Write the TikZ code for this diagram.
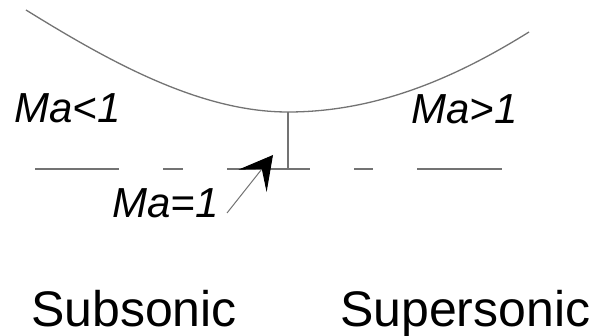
\documentclass[tikz,border=0pt]{standalone}
\usepackage{fontspec}
\setmainfont{Liberation Sans}
\usetikzlibrary{arrows.meta}

\begin{document}
\begin{tikzpicture}[x=1pt, y=-1pt,
  machlabel/.style={inner sep=0pt, anchor=base west, font=\fontsize{42}{48}\selectfont\itshape},
  regime/.style={inner sep=0pt, anchor=base west, font=\fontsize{50}{58}\selectfont},
  thinline/.style={draw=black!55, line width=1.3pt}]
\useasboundingbox (0,0) rectangle (599,336);

\coordinate (inlet) at (26,10);
\coordinate (throat) at (288,112);
\coordinate (outlet) at (529,32);
\coordinate (sonic) at (288,169);
\coordinate (axisL) at (35,169);
\coordinate (axisR) at (502,169);
\coordinate (tail) at (227,213);
\coordinate (tip) at (273,155);

% nozzle wall
\draw[thinline] (inlet) .. controls (110,62) and (200,112) .. (throat)
  .. controls (380,112) and (460,75) .. (outlet);
\draw[thinline] (throat) -- (sonic);
% axis
\draw[thinline, line width=1.5pt, dash pattern=on 84pt off 44pt on 20pt off 44pt on 83pt off 44pt on 19pt off 44pt on 85pt] (axisL) -- (axisR);

\node (subma) [machlabel] at (14,123) {Ma<1};
\node (superma) [machlabel] at (411,124) {Ma>1};
\node (sonicma) [machlabel] at (112,218) {Ma=1};

\draw[draw=black!55, line width=1pt, -{Stealth[length=33pt,width=36pt,inset=15pt,black]}] (tail) -- (tip);

\node (subsonic) [regime] at (31,326) {Subsonic};
\node (supersonic) [regime] at (340,326) {Supersonic};
\end{tikzpicture}
\end{document}
